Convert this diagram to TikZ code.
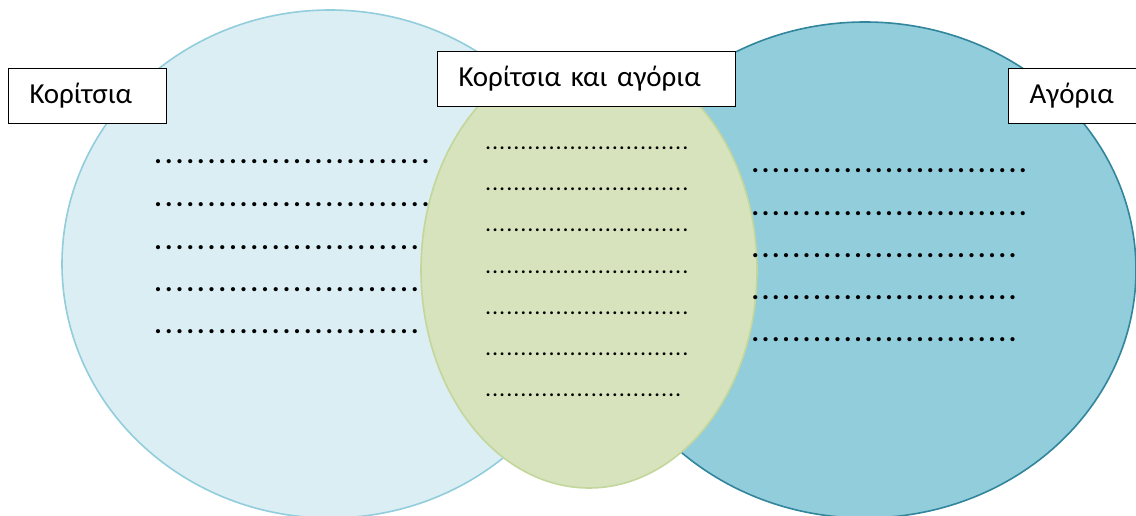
\documentclass[tikz,border=0pt]{standalone}
\usepackage{fontspec}
\setmainfont{Carlito}
\usetikzlibrary{shapes.geometric,positioning}

\definecolor{girlfill}{HTML}{DBEEF3}
\definecolor{girlline}{HTML}{92CDDC}
\definecolor{boyfill}{HTML}{92CDDC}
\definecolor{boyline}{HTML}{31859C}
\definecolor{bothfill}{HTML}{D7E3BC}
\definecolor{bothline}{HTML}{C3D69B}

\newcommand\dotrow[2]{\foreach \k in {1,...,#1}{\makebox[#2]{.}}}

\begin{document}
\begin{tikzpicture}[x=1pt,y=-1pt,
    set/.style={ellipse,inner sep=0pt,line width=1.6pt},
    lbl/.style={draw=black,line width=1.2pt,fill=white,anchor=north west,
                inner xsep=21pt,inner ysep=0pt,align=left,minimum height=55pt,
                font=\fontsize{29}{32}\selectfont},
    dots/.style={anchor=base west,inner sep=0pt,font=\bfseries\fontsize{28}{28}\selectfont},
    smalldots/.style={dots,font=\bfseries\fontsize{19}{19}\selectfont}]
\useasboundingbox (0,0) rectangle (1136,516);

% the three sets
\node[set,draw=girlline,fill=girlfill,minimum width=536pt,minimum height=508pt] (girls) at (330,264) {};
\node[set,draw=boyline,fill=boyfill,minimum width=542pt,minimum height=496pt] (boys) at (865,270) {};
\node[set,draw=bothline,fill=bothfill,minimum width=336pt,minimum height=436pt] (both) at (589,270) {};

% blanks to fill in
\foreach \y/\n [count=\i] in {162/26,205/26,247/25,289/25,331/25}
  \node[dots] (gd\i) at (152.6,\y+2) {\dotrow{\n}{10.7pt}};
\foreach \y/\n [count=\i] in {148/29,189/29,230/29,272/29,313/29,354/29,395/28}
  \node[smalldots] (bd\i) at (484.5,\y+1.4) {\dotrow{\n}{7.04pt}};
\foreach \y/\n [count=\i] in {171/27,213/27,255/26,297/26,339/26}
  \node[dots] (yd\i) at (749.9,\y+2) {\dotrow{\n}{10.3pt}};

% titles
\node[lbl,minimum width=158pt,text width=116pt] (tgirls) at (8,68) {Κορίτσια};
\node[lbl,minimum width=298pt,text width=256pt] (tboth) at (437,51) {Κορίτσια και αγόρια};
\node[lbl,minimum width=160pt,text width=118pt] (tboys) at (1008,68) {Αγόρια};
\end{tikzpicture}
\end{document}
